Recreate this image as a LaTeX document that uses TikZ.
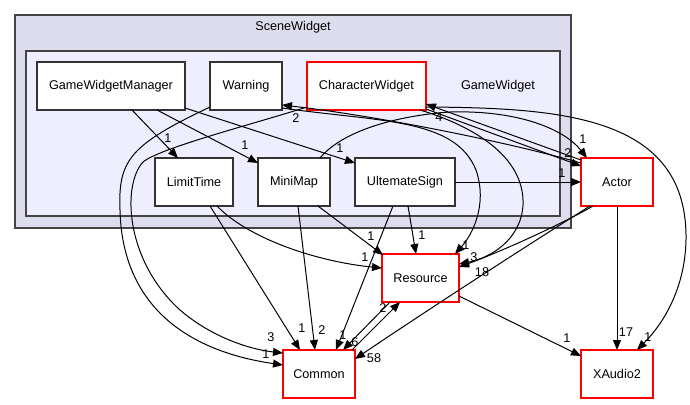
\documentclass[tikz,border=0pt]{standalone}
\usepackage{fontspec}
\setmainfont{Liberation Sans}
\usetikzlibrary{arrows.meta,calc}
\definecolor{outerfill}{HTML}{DDDDEE}
\definecolor{innerfill}{HTML}{EEEEFF}
\definecolor{clusline}{HTML}{444444}
\begin{document}
\begin{tikzpicture}[x=0.75pt,y=-0.75pt,
  box/.style={draw=black!80,line width=1.1pt,fill=white,rectangle,minimum height=36pt,inner sep=0pt,font=\fontsize{9.5}{11}\selectfont},
  redbox/.style={box,draw=red},
  edge/.style={line width=0.75pt,-{Triangle[length=7.5pt,width=6pt]}},
  lbl/.style={font=\fontsize{9.5}{11}\selectfont,inner sep=0pt},
  clus/.style={draw=clusline,line width=1.3pt}]
\useasboundingbox (0,0) rectangle (690,404);
% clusters
\draw[clus,fill=outerfill] (15,15) rectangle (571,228);
\node[lbl] (scenelbl) at (293,27) {SceneWidget};
\draw[clus,fill=innerfill] (26,51) rectangle (560,216);
\node[lbl] (gamelbl) at (498,86) {GameWidget};
% nodes
\node[box,minimum width=111pt] (gwm) at (111,86) {GameWidgetManager};
\node[box,minimum width=54pt] (warn) at (246,86) {Warning};
\node[redbox,minimum width=89.25pt] (cw) at (366.5,86) {CharacterWidget};
\node[box,minimum width=58.5pt] (lt) at (194,182) {LimitTime};
\node[box,minimum width=54pt] (mm) at (294,182) {MiniMap};
\node[box,minimum width=75pt] (us) at (405,182) {UltemateSign};
\node[redbox,minimum width=54pt] (actor) at (617,182) {Actor};
\node[redbox,minimum width=57.75pt] (res) at (420.5,278) {Resource};
\node[redbox,minimum width=54pt] (com) at (319,374) {Common};
\node[redbox,minimum width=54pt] (xa) at (617,374) {XAudio2};
% edges
\draw[edge] ($(gwm)+(21,24)$) -- ($(lt)+(-16,-24)$);
\node[lbl] (l1) at (168,138) {1};
\draw[edge] ($(gwm)+(46,24)$) -- ($(mm)+(-36,-19)$);
\node[lbl] (l2) at (245,145) {1};
\draw[edge] ($(gwm)+(74,22)$) -- ($(us)+(-50,-19)$);
\node[lbl] (l3) at (340,148) {1};
\draw[edge] ($(warn)+(-36,21)$) .. controls (130,145) and (118,160) .. (120,210) .. controls (122,300) and (180,350) .. ($(com)+(-36,-9)$);
\node[lbl] (l4) at (266,354) {1};
\draw[edge] ($(cw)+(-59.5,21)$) .. controls (250,125) and (160,148) .. (143,162) .. controls (122,185) and (125,260) .. (180,310) .. controls (215,340) and (255,350) .. ($(com)+(-36,-21)$);
\node[lbl] (l5) at (271,337) {3};
\draw[edge] ($(lt)+(16,24)$) -- ($(com)+(-19,-24)$);
\node[lbl] (l6) at (302,328) {1};
\draw[edge] ($(lt)+(23,24)$) .. controls (250,240) and (320,262) .. ($(res)+(-38.5,-10)$);
\node[lbl] (l7) at (365,257) {1};
\draw[edge] ($(mm)+(4,24)$) -- ($(com)+(-4,-24)$);
\node[lbl] (l8) at (322,330) {2};
\draw[edge] ($(mm)+(24,24)$) -- ($(res)+(-37.5,-23)$);
\node[lbl] (l9) at (371,236) {1};
\draw[edge] ($(mm)+(26,-24)$) .. controls (345,128) and (405,115) .. (450,112) .. controls (520,110) and (565,130) .. ($(actor)+(-30,-24)$);
\node[lbl] (l10) at (583,139) {1};
\draw[edge] ($(us)+(3,24)$) -- ($(res)+(-4.5,-24)$);
\node[lbl] (l11) at (422,235) {1};
\draw[edge] ($(us)+(-12,24)$) -- ($(com)+(17,-24)$);
\node[lbl] (l12) at (343,335) {1};
\draw[edge] ($(us)+(50,0)$) -- ($(actor)+(-36,0)$);
\node[lbl] (l13) at (562,173) {1};
\draw[edge] ($(warn)+(36,22)$) .. controls (380,122) and (455,118) .. (476,170) .. controls (488,205) and (472,235) .. ($(res)+(34.5,-24)$);
\node[lbl] (l14) at (466,245) {1};
\draw[edge] ($(actor)+(-36,-19)$) .. controls (500,140) and (370,115) .. ($(warn)+(36,19)$);
\node[lbl] (l15) at (296,118) {2};
\draw[edge] ($(cw)+(59.5,23)$) -- ($(actor)+(-36,-16)$);
\node[lbl] (l16) at (568,153) {2};
\draw[edge] ($(actor)+(-36,-22)$) -- ($(cw)+(59.5,18)$);
\node[lbl] (l17) at (439,117) {4};
\draw[edge] ($(cw)+(53.5,24)$) .. controls (470,125) and (525,155) .. (523,205) .. controls (521,240) and (490,258) .. ($(res)+(38.5,-14)$);
\node[lbl] (l18) at (474,257) {3};
\draw[edge] ($(cw)+(59.5,21)$) .. controls (560,108) and (688,115) .. (686,240) .. controls (685,290) and (662,325) .. ($(xa)+(20,-24)$);
\node[lbl] (l19) at (648,337) {1};
\draw[edge] ($(actor)+(-24,24)$) .. controls (560,225) and (500,252) .. ($(res)+(38.5,-11)$);
\node[lbl] (l20) at (482,272) {18};
\draw[edge] ($(actor)+(-27,24)$) .. controls (520,250) and (420,315) .. ($(com)+(36,-15)$);
\node[lbl] (l21) at (374,358) {58};
\draw[edge] ($(actor)+(0,24)$) -- ($(xa)+(0,-24)$);
\node[lbl] (l22) at (626,332) {17};
\draw[edge] ($(res)+(38.5,18)$) -- ($(xa)+(-36,-18)$);
\node[lbl] (l23) at (567,338) {1};
\draw[edge] ($(com)+(33,-24)$) -- ($(res)+(-20.5,24)$);
\node[lbl] (l24) at (383,308) {2};
\draw[edge] ($(res)+(-30.5,24)$) -- ($(com)+(24,-24)$);
\node[lbl] (l25) at (355,342) {6};
\end{tikzpicture}
\end{document}
